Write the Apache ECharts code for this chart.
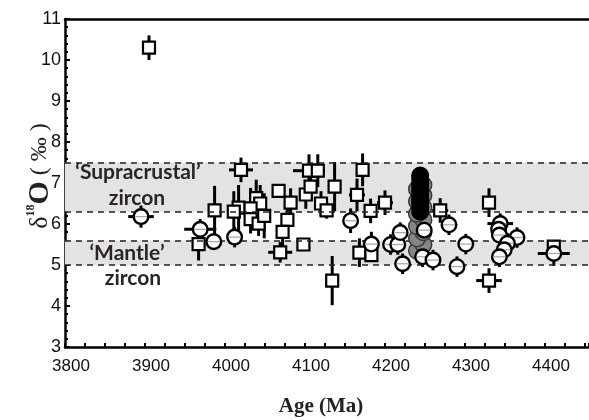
<!DOCTYPE html>
<html><head><meta charset="utf-8">
<script src="https://cdn.jsdelivr.net/npm/echarts@6.0.0/dist/echarts.min.js"></script>
<style>html,body{margin:0;padding:0;background:#fff}#c{width:589px;height:420px}</style>
</head><body><div id="c"></div>
<script>
// ---- data (age Ma, d18O permil, y error, x error) ----
const squareAges = [3905,3967,3987,4020,4017,4011,4039,4044,4032,4032,4042,4049,4067,4082,4078,4072,4069,4098,4105,4116,4101,4107,4120,4127,4137,4134,4165,4172,4182,4168,4183,4200,4269,4330,4330,4411];
const squareD18O = [10.3,5.51,6.33,7.32,6.40,6.30,6.63,6.50,6.38,6.12,6.01,6.20,6.81,6.52,6.10,5.81,5.31,5.50,7.30,7.30,6.72,6.91,6.50,6.33,6.91,4.62,6.71,7.32,6.32,5.30,5.24,6.52,6.33,6.52,4.62,5.45];
const squareErrY = [0.3,0.4,0.6,0.3,0.55,0.5,0.45,0.45,0.5,0.35,0.3,0.55,0,0.35,0.35,0.35,0.25,0.15,0.4,0.4,0.35,0.35,0.3,0.2,0.6,0.6,0.4,0.4,0.3,0.35,0.15,0.3,0.3,0.35,0.3,0.1];
const squareErrX = [0,0,0,15,0,0,0,0,0,0,0,0,0,0,0,0,15,0,20,0,0,0,0,0,0,0,10,0,0,0,0,10,10,0,16,0];

const circleAges = [3895,3969,3986,4012,4157,4183,4207,4216,4219,4222,4249,4247,4260,4280,4301,4290,4344,4342,4343,4365,4353,4349,4343,4411];
const circleD18O = [6.18,5.87,5.57,5.68,6.08,5.51,5.50,5.50,5.79,5.03,5.85,5.20,5.12,5.98,5.51,4.96,6.01,5.87,5.73,5.67,5.53,5.37,5.20,5.28];
const circleErrY = [0.27,0.25,0.2,0.25,0.3,0.3,0.25,0.25,0.25,0.25,0.25,0.25,0.25,0.25,0.25,0.25,0.25,0.25,0.25,0.25,0.25,0.25,0.25,0.3];
const circleErrX = [16,20,0,0,0,0,0,0,0,0,0,0,0,10,0,0,16,0,0,10,0,0,0,20];

const clusterGrayAges = [4240,4248,4240,4248,4240,4248,4240,4248,4240,4248,4240,4248];
const clusterGrayD18O = [5.35,5.5,5.65,5.8,5.95,6.1,6.25,6.4,6.55,6.7,6.85,6.95];
const clusterBlackAges = [4244,4244,4244,4244,4244,4244,4244,4244,4244,4244];
const clusterBlackD18O = [6.3,6.4,6.5,6.6,6.7,6.8,6.9,7.0,7.1,7.18];

const supracrustalBand = [6.3, 7.5];
const mantleBand = [5.0, 5.6];
const xTickLabels = [3800,3900,4000,4100,4200,4300,4400];

// ---- build ----
const zip = (a,b,c,d) => a.map((v,i)=>[v,b[i],c?c[i]:0,d?d[i]:0]);
const sqData = zip(squareAges, squareD18O, squareErrY, squareErrX);
const ciData = zip(circleAges, circleD18O, circleErrY, circleErrX);
const grayData = zip(clusterGrayAges, clusterGrayD18O);
const blackData = zip(clusterBlackAges, clusterBlackD18O);

function errRender(params, api){
  const x=api.value(0), y=api.value(1), ey=api.value(2), ex=api.value(3);
  const ch=[];
  if(ey>0){const a=api.coord([x,y-ey]), b=api.coord([x,y+ey]);
    ch.push({type:'line',shape:{x1:a[0],y1:a[1],x2:b[0],y2:b[1]},style:{stroke:'#000',lineWidth:3}});}
  if(ex>0){const a=api.coord([x-ex,y]), b=api.coord([x+ex,y]);
    ch.push({type:'line',shape:{x1:a[0],y1:a[1],x2:b[0],y2:b[1]},style:{stroke:'#000',lineWidth:3}});}
  return {type:'group',children:ch};
}
function squareRender(params, api){
  const p=api.coord([api.value(0),api.value(1)]);
  return {type:'rect',shape:{x:p[0]-6,y:p[1]-6,width:12,height:12},style:{fill:'#fff',stroke:'#000',lineWidth:2.2}};
}
function circleRender(params, api){
  const p=api.coord([api.value(0),api.value(1)]);
  return {type:'group',children:[
    {type:'circle',shape:{cx:p[0],cy:p[1],r:7.3},style:{fill:'#fff',stroke:'#000',lineWidth:2.4}},
    {type:'line',shape:{x1:p[0]-6,y1:p[1],x2:p[0]+6,y2:p[1]},style:{stroke:'#aaa',lineWidth:1.3}}
  ]};
}
function clusterRender(fill, stroke){
  return function(params, api){
    const p=api.coord([api.value(0),api.value(1)]);
    return {type:'circle',shape:{cx:p[0],cy:p[1],r:8.3},style:{fill:fill,stroke:stroke,lineWidth:1.5}};
  };
}

const chart = echarts.init(document.getElementById('c'), null, {renderer:'canvas'});
const serif = '"Liberation Serif","Times New Roman",serif';
const sans = '"Liberation Sans",Arial,sans-serif';
const bandFont = 'bold 21px Lato, sans-serif';
chart.setOption({
  animation:false,
  grid:{left:65,top:19,bottom:73,right:0,show:false},
  xAxis:[{type:'value',min:3800,max:4455,interval:100,
    axisLine:{lineStyle:{color:'#000',width:2.5}},
    axisTick:{inside:true,length:4,lineStyle:{width:2,color:'#000'}},
    minorTick:{show:true,splitNumber:4,length:4,lineStyle:{width:2,color:'#000'}},
    splitLine:{show:false},
    axisLabel:{fontSize:17,color:'#111',fontFamily:sans,margin:11,padding:[0,0,0,12],showMaxLabel:false,
      formatter:v=>xTickLabels.indexOf(v)>=0?String(v):''}},
    {type:'value',position:'top',min:3800,max:4455,axisLine:{show:true,lineStyle:{color:'#000',width:2.5}},
     axisTick:{show:false},axisLabel:{show:false},splitLine:{show:false}}],
  yAxis:{type:'value',min:3,max:11,interval:1,
    axisLine:{lineStyle:{color:'#000',width:2.5}},
    axisTick:{inside:true,length:5,lineStyle:{width:2,color:'#000'}},
    minorTick:{show:true,splitNumber:5,length:3,lineStyle:{width:2,color:'#000'}},
    splitLine:{show:false},
    axisLabel:{fontSize:18,color:'#111',fontFamily:sans,margin:4}},
  graphic:[
    {type:'text',x:138,y:172,z:100,style:{text:'‘Supracrustal’',textAlign:'center',textVerticalAlign:'middle',font:bandFont,fill:'#2a2522'}},
    {type:'text',x:137,y:198,z:100,style:{text:'zircon',textAlign:'center',textVerticalAlign:'middle',font:bandFont,fill:'#2a2522'}},
    {type:'text',x:127,y:253,z:100,style:{text:'‘Mantle’',textAlign:'center',textVerticalAlign:'middle',font:bandFont,fill:'#2a2522'}},
    {type:'text',x:133,y:278,z:100,style:{text:'zircon',textAlign:'center',textVerticalAlign:'middle',font:bandFont,fill:'#2a2522'}},
    {type:'text',x:321,y:407,z:100,style:{text:'Age (Ma)',textAlign:'center',textVerticalAlign:'middle',font:'bold 21px '+serif,fill:'#222'}},
    {type:'text',x:40,y:176,z:100,rotation:Math.PI/2,style:{text:'{d|δ}{s|18}{o|O}{p| ( ‰ )}',textAlign:'center',textVerticalAlign:'middle',
      rich:{d:{font:'26px '+serif,fill:'#222'},s:{font:'bold 12px '+serif,fill:'#222',verticalAlign:'top',padding:[0,0,12,0]},o:{font:'bold 30px '+serif,fill:'#222'},p:{font:'24px '+serif,fill:'#222'}}}}
  ],
  series:[
    {type:'custom',name:'err',renderItem:errRender,data:sqData.concat(ciData),encode:{x:0,y:1},z:3,silent:true,
      markArea:{silent:true,itemStyle:{color:'#e3e3e3'},data:[[{yAxis:supracrustalBand[0]},{yAxis:supracrustalBand[1]}],[{yAxis:mantleBand[0]},{yAxis:mantleBand[1]}]]},
      markLine:{silent:true,symbol:['none','none'],label:{show:false},lineStyle:{type:[6,5],color:'#222',width:1.6},
        data:[{yAxis:supracrustalBand[0]},{yAxis:supracrustalBand[1]},{yAxis:mantleBand[0]},{yAxis:mantleBand[1]}]}},
    {type:'custom',name:'squares',renderItem:squareRender,data:sqData,encode:{x:0,y:1},z:4,silent:true},
    {type:'custom',name:'clusterGray',renderItem:clusterRender('#858585','#3a3a3a'),data:grayData,encode:{x:0,y:1},z:5,silent:true},
    {type:'custom',name:'clusterBlack',renderItem:clusterRender('#000','#000'),data:blackData,encode:{x:0,y:1},z:6,silent:true},
    {type:'custom',name:'circles',renderItem:circleRender,data:ciData,encode:{x:0,y:1},z:7,silent:true}
  ]
});
</script></body></html>
